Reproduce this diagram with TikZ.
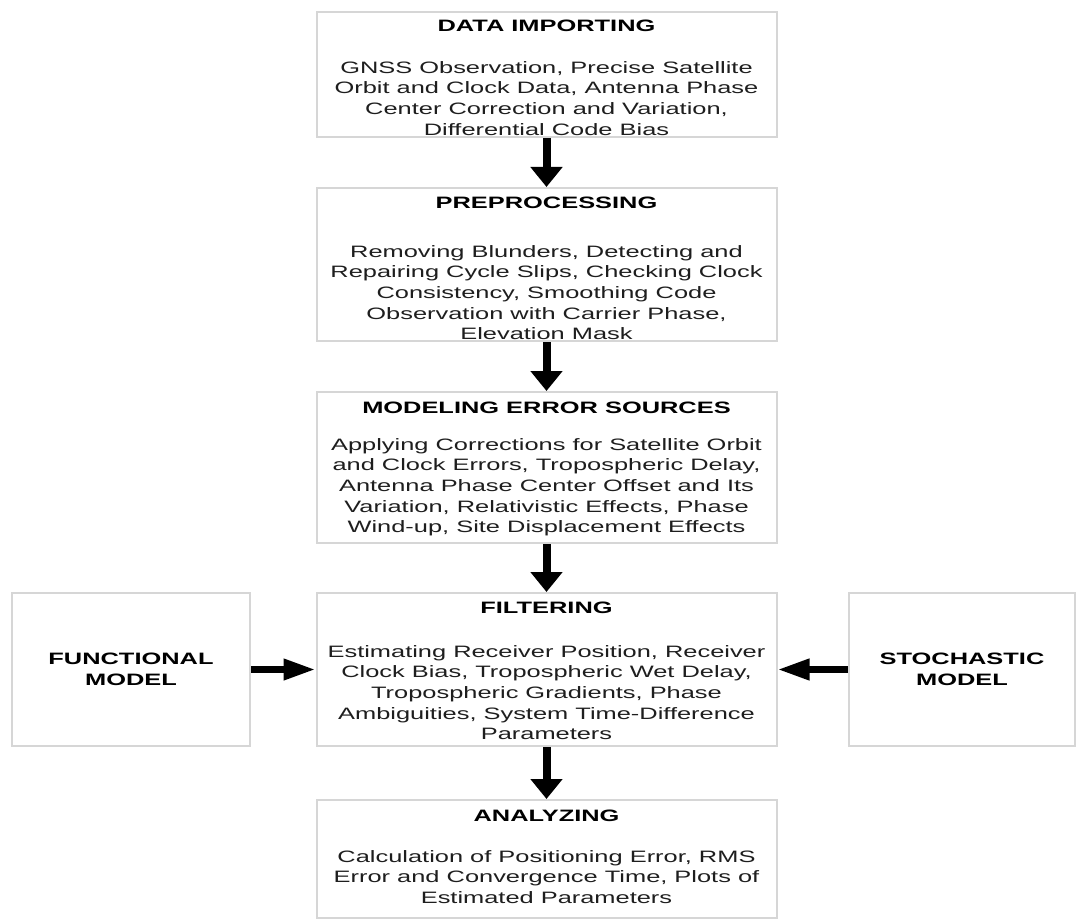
\documentclass[tikz,border=0pt]{standalone}
\usepackage{fontspec}
\setmainfont[FakeStretch=1.54]{Liberation Sans}
\usetikzlibrary{arrows.meta}
\definecolor{boxline}{HTML}{D6D6D6}
\definecolor{bodytext}{HTML}{1E1E1E}
\tikzset{
  stagebox/.style={draw=boxline, line width=2pt, fill=white, rectangle, inner sep=0pt},
  ttl/.style={inner sep=0pt, font=\fontsize{16.5}{20.7}\selectfont\bfseries, text=black},
  bdy/.style={inner sep=0pt, align=center, font=\fontsize{16.5}{20.7}\selectfont, text=bodytext, anchor=north},
  sidettl/.style={inner sep=0pt, align=center, font=\fontsize{16.5}{21}\selectfont\bfseries, text=black},
  varr/.style={line width=8pt, -{Triangle[length=20pt,width=31pt]}},
  harr/.style={line width=7pt, -{Triangle[length=32pt,width=20pt]}}
}
\begin{document}
\begin{tikzpicture}[x=1pt,y=-1pt]
\useasboundingbox (0,0) rectangle (1076,920);
% main boxes
\node[stagebox, minimum width=460pt, minimum height=125pt] (b1) at (546.5,74.5) {};
\node[stagebox, minimum width=460pt, minimum height=153pt] (b2) at (546.5,264.5) {};
\node[stagebox, minimum width=460pt, minimum height=151pt] (b3) at (546.5,467.5) {};
\node[stagebox, minimum width=460pt, minimum height=153pt] (b4) at (546.5,669.5) {};
\node[stagebox, minimum width=460pt, minimum height=118pt] (b5) at (546.5,859) {};
% side boxes
\node[stagebox, minimum width=238pt, minimum height=153pt] (fm) at (131,669.5) {};
\node[stagebox, minimum width=226pt, minimum height=153pt] (sm) at (962,669.5) {};
% titles
\node[ttl] (t1) at (546.5,26) {DATA IMPORTING};
\node[ttl] (t2) at (546.5,202.5) {PREPROCESSING};
\node[ttl] (t3) at (546.5,407.5) {MODELING ERROR SOURCES};
\node[ttl] (t4) at (546.5,608) {FILTERING};
\node[ttl] (t5) at (546.5,815.5) {ANALYZING};
% bodies
\node[bdy] (x1) at (546.5,61) {GNSS Observation, Precise Satellite\\Orbit and Clock Data, Antenna Phase\\Center Correction and Variation,\\Differential Code Bias};
\node[bdy] (x2) at (546.5,245) {Removing Blunders, Detecting and\\Repairing Cycle Slips, Checking Clock\\Consistency, Smoothing Code\\Observation with Carrier Phase,\\Elevation Mask};
\node[bdy] (x3) at (546.5,438) {Applying Corrections for Satellite Orbit\\and Clock Errors, Tropospheric Delay,\\Antenna Phase Center Offset and Its\\Variation, Relativistic Effects, Phase\\Wind-up, Site Displacement Effects};
\node[bdy] (x4) at (546.5,645) {Estimating Receiver Position, Receiver\\Clock Bias, Tropospheric Wet Delay,\\Tropospheric Gradients, Phase\\Ambiguities, System Time-Difference\\Parameters};
\node[bdy] (x5) at (546.5,850) {Calculation of Positioning Error, RMS\\Error and Convergence Time, Plots of\\Estimated Parameters};
% side texts
\node[sidettl] (fmt) at (fm.center) {FUNCTIONAL\\MODEL};
\node[sidettl] (smt) at (sm.center) {STOCHASTIC\\MODEL};
% arrows
\draw[varr] (b1.south) -- (b2.north);
\draw[varr] (b2.south) -- (b3.north);
\draw[varr] (b3.south) -- (b4.north);
\draw[varr] (b4.south) -- (b5.north);
\draw[harr] (fm.east) -- (b4.west);
\draw[harr] (sm.west) -- (b4.east);
\end{tikzpicture}
\end{document}
